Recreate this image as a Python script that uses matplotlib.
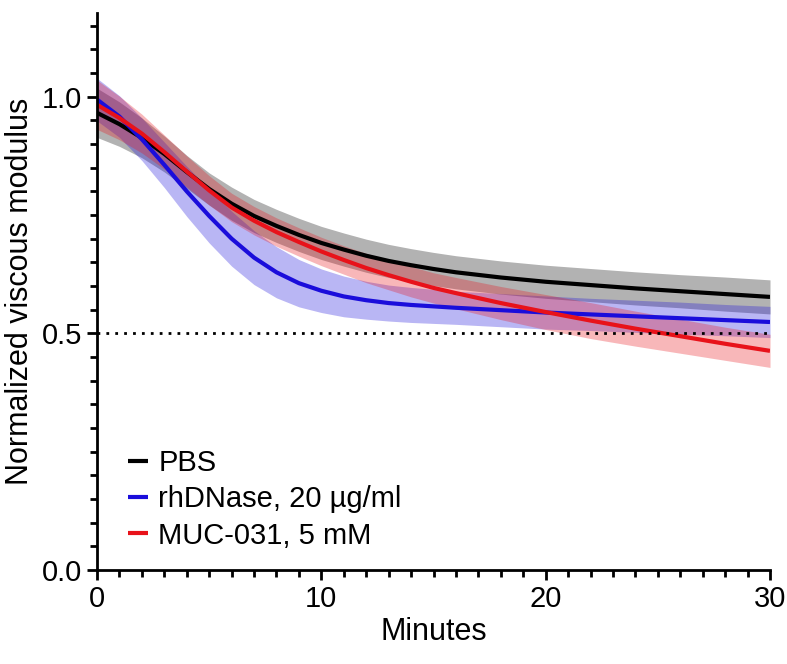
import matplotlib

matplotlib.use("Agg")

import matplotlib.pyplot as plt
from matplotlib.ticker import MultipleLocator, FixedLocator

plt.rcParams["font.family"] = ["Liberation Sans", "DejaVu Sans"]

minutes = [0, 1, 2, 3, 4, 5, 6, 7, 8, 9, 10, 11, 12, 13, 14, 15, 16,
           18, 20, 22, 24, 26, 28, 30]

pbs_mean = [0.966, 0.942, 0.913, 0.879, 0.841, 0.805, 0.774, 0.748, 0.727, 0.708, 0.691,
            0.677, 0.664, 0.653, 0.644, 0.636, 0.629,
            0.618, 0.609, 0.602, 0.595, 0.589, 0.583, 0.577]
pbs_err = [0.052, 0.047, 0.042, 0.038, 0.035, 0.034, 0.035, 0.035, 0.035, 0.035, 0.035,
           0.035, 0.035, 0.035, 0.035, 0.035, 0.035,
           0.035, 0.035, 0.035, 0.035, 0.035, 0.036, 0.036]

dnase_mean = [0.994, 0.958, 0.910, 0.856, 0.800, 0.748, 0.700, 0.660, 0.629, 0.606, 0.590,
              0.578, 0.570, 0.564, 0.560, 0.557, 0.554,
              0.549, 0.544, 0.540, 0.536, 0.532, 0.528, 0.524]
dnase_err = [0.045, 0.044, 0.045, 0.048, 0.053, 0.057, 0.058, 0.057, 0.054, 0.050, 0.046,
             0.043, 0.040, 0.038, 0.037, 0.036, 0.035,
             0.035, 0.035, 0.034, 0.034, 0.034, 0.033, 0.033]

muc_mean = [0.983, 0.955, 0.922, 0.883, 0.842, 0.802, 0.766, 0.738, 0.714, 0.693, 0.673,
            0.655, 0.638, 0.623, 0.609, 0.596, 0.585,
            0.564, 0.545, 0.527, 0.510, 0.494, 0.478, 0.463]
muc_err = [0.052, 0.046, 0.041, 0.036, 0.033, 0.031, 0.030, 0.030, 0.030, 0.030, 0.030,
           0.030, 0.031, 0.031, 0.032, 0.032, 0.033,
           0.035, 0.037, 0.038, 0.037, 0.036, 0.035, 0.035]

series = [
    ("PBS", pbs_mean, pbs_err, "#000000"),
    ("rhDNase, 20 µg/ml", dnase_mean, dnase_err, "#1a0ddb"),
    ("MUC-031, 5 mM", muc_mean, muc_err, "#e8121a"),
]


def main():
    fig = plt.figure(figsize=(7.87, 6.64), dpi=100)
    ax = fig.add_axes([0.1233, 0.1416, 0.8551, 0.8389])

    for label, mean, err, color in series:
        lower = [m - e for m, e in zip(mean, err)]
        upper = [m + e for m, e in zip(mean, err)]
        ax.fill_between(minutes, lower, upper, color=color, alpha=0.3, linewidth=0)

    for label, mean, err, color in series:
        ax.plot(minutes, mean, color=color, lw=3, label=label, solid_capstyle="butt")

    ax.plot([0, 30], [0.5, 0.5], color="black", lw=2, linestyle=(0, (1, 2.2)))

    ax.set_xlim(0, 30)
    ax.set_ylim(0, 1.177)
    ax.spines["top"].set_visible(False)
    ax.spines["right"].set_visible(False)
    ax.spines["left"].set_linewidth(2)
    ax.spines["bottom"].set_linewidth(2)

    ax.xaxis.set_major_locator(FixedLocator([0, 10, 20, 30]))
    ax.xaxis.set_minor_locator(MultipleLocator(1))
    ax.yaxis.set_major_locator(FixedLocator([0.0, 0.5, 1.0]))
    ax.yaxis.set_minor_locator(MultipleLocator(0.05))
    ax.set_yticklabels(["0.0", "0.5", "1.0"])
    ax.tick_params(which="major", length=7.5, width=2, labelsize=21, pad=3)
    ax.tick_params(which="minor", length=5, width=2)

    ax.set_xlabel("Minutes", fontsize=22, labelpad=3)
    ax.set_ylabel("Normalized viscous modulus", fontsize=22, labelpad=5)

    ax.legend(loc="lower left", bbox_to_anchor=(0.015, 0.0), frameon=False, fontsize=21,
              handlelength=0.7, handletextpad=0.35, labelspacing=0.28, borderaxespad=0.3)

    fig.savefig("out.png", dpi=100)
    plt.close(fig)


if __name__ == "__main__":
    main()
